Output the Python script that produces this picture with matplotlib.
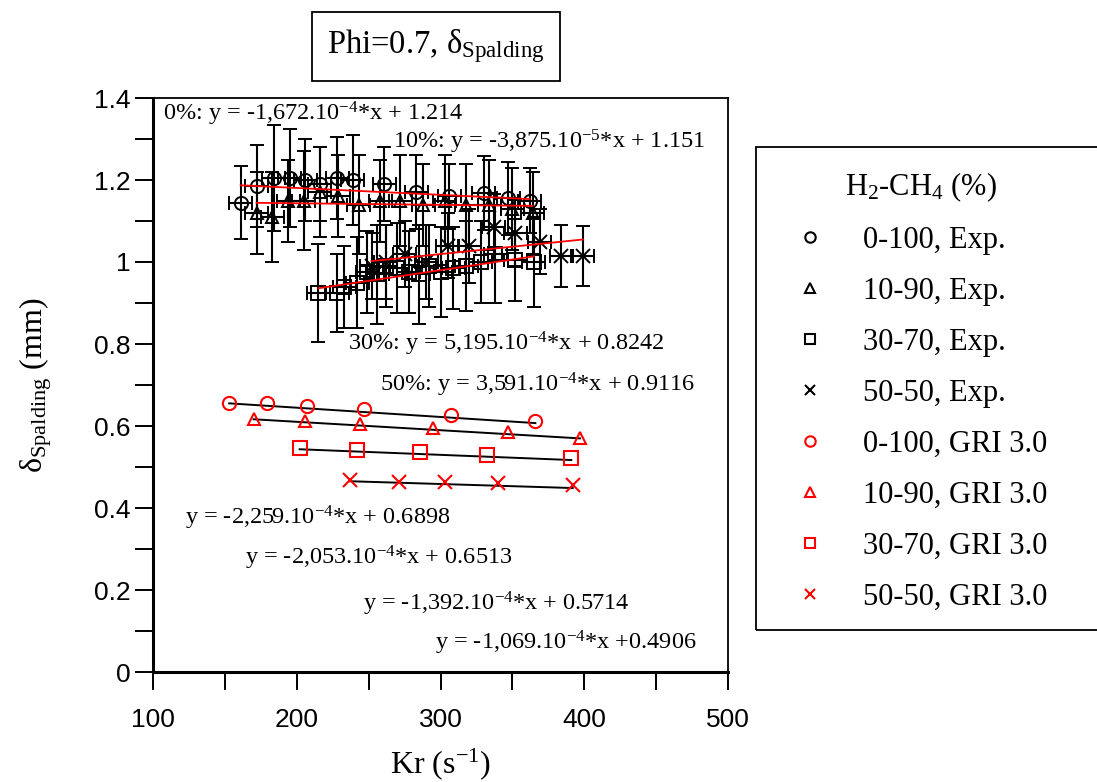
import numpy as np
import matplotlib
matplotlib.use('Agg')
import matplotlib.pyplot as plt
from matplotlib.lines import Line2D
from matplotlib.patches import Rectangle
from matplotlib.ticker import MultipleLocator, FormatStrFormatter

plt.rcParams['mathtext.fontset'] = 'custom'
plt.rcParams['mathtext.rm'] = 'Liberation Serif'
plt.rcParams['mathtext.it'] = 'Liberation Serif:italic'
plt.rcParams['mathtext.default'] = 'rm'

SERIF = 'Liberation Serif'
SANS = 'Liberation Sans'

# experimental data (black, with error bars)
exp_c_x = [161, 172, 184, 195, 206, 216, 228, 239, 261, 283, 306, 330, 347, 362]
exp_c_y = [1.145, 1.185, 1.205, 1.205, 1.200, 1.190, 1.205, 1.200, 1.190, 1.170, 1.160, 1.168, 1.155, 1.150]
exp_c_ye = [0.09, 0.10, 0.13, 0.12, 0.10, 0.09, 0.10, 0.11, 0.09, 0.09, 0.08, 0.09, 0.09, 0.08]

exp_t_x = [172, 183, 194, 205, 216, 229, 243, 258, 272, 288, 303, 318, 334, 350, 364]
exp_t_y = [1.12, 1.11, 1.15, 1.15, 1.17, 1.16, 1.14, 1.15, 1.15, 1.14, 1.15, 1.14, 1.14, 1.13, 1.12]
exp_t_ye = [0.10, 0.11, 0.10, 0.12, 0.11, 0.10, 0.12, 0.10, 0.11, 0.10, 0.11, 0.10, 0.11, 0.10, 0.10]

exp_s_x = [215, 228, 233, 242, 249, 256, 262, 270, 278, 285, 292, 300, 309, 318, 328, 338, 352, 365]
exp_s_y = [0.925, 0.925, 0.940, 0.950, 0.975, 0.970, 0.990, 0.985, 0.975, 0.970, 0.990, 0.975,
           0.985, 0.990, 1.000, 1.020, 1.005, 1.000]
exp_s_ye = [0.12, 0.095, 0.10, 0.11, 0.10, 0.12, 0.10, 0.11, 0.10, 0.12, 0.10, 0.11,
            0.10, 0.11, 0.10, 0.12, 0.10, 0.11]

exp_x_x = [252, 262, 275, 290, 305, 320, 337, 352, 369, 384, 399]
exp_x_y = [0.99, 1.00, 1.02, 1.00, 1.04, 1.04, 1.085, 1.07, 1.05, 1.015, 1.015]
exp_x_ye = [0.08, 0.09, 0.08, 0.09, 0.08, 0.09, 0.08, 0.08, 0.08, 0.075, 0.073]

exp_xerr = 8

# GRI 3.0 simulations (red)
gri_c_x = [153, 179, 207, 247, 307, 366]
gri_c_y = [0.657, 0.655, 0.649, 0.641, 0.627, 0.613]
gri_t_x = [170, 206, 244, 295, 347, 397]
gri_t_y = [0.617, 0.612, 0.604, 0.596, 0.585, 0.570]
gri_s_x = [202, 242, 286, 332, 391]
gri_s_y = [0.547, 0.541, 0.537, 0.529, 0.523]
gri_x_x = [237, 271, 303, 340, 392]
gri_x_y = [0.468, 0.464, 0.464, 0.462, 0.456]

# linear fits (slope, intercept) as printed on the chart
exp_fits = [(-1.672e-4, 1.214), (-3.875e-5, 1.151), (5.195e-4, 0.8242), (3.591e-4, 0.9116)]
gri_fits = [(-2.259e-4, 0.6898), (-2.053e-4, 0.6513), (-1.392e-4, 0.5714), (-1.069e-4, 0.4906)]

exp_labels = ['0%: y = -1,672.10$^{-4}$*x + 1.214', '10%: y = -3,875.10$^{-5}$*x + 1.151',
              '30%: y = 5,195.10$^{-4}$*x + 0.8242', '50%: y = 3,591.10$^{-4}$*x + 0.9116']
gri_labels = ['y = -2,259.10$^{-4}$*x + 0.6898', 'y = -2,053.10$^{-4}$*x + 0.6513',
              'y = -1,392.10$^{-4}$*x + 0.5714', 'y = -1,069.10$^{-4}$*x +0.4906']
exp_label_pos = [(107, 1.360), (267, 1.294), (236, 0.800), (258, 0.700)]
gri_label_pos = [(122, 0.376), (164, 0.278), (246, 0.166), (296, 0.071)]

legend_labels = ['0-100, Exp.', '10-90, Exp.', '30-70, Exp.', '50-50, Exp.',
                 '0-100, GRI 3.0', '10-90, GRI 3.0', '30-70, GRI 3.0', '50-50, GRI 3.0']

markers = ['o', '^', 's', 'x']
msizes = [9.5, 8.5, 9.5, 10]

fig = plt.figure(figsize=(10.97, 7.82), dpi=100)
ax = fig.add_axes([153 / 1097, 1 - 672 / 782, 575 / 1097, 574 / 782])

exp_sets = [(exp_c_x, exp_c_y, exp_c_ye), (exp_t_x, exp_t_y, exp_t_ye),
            (exp_s_x, exp_s_y, exp_s_ye), (exp_x_x, exp_x_y, exp_x_ye)]
gri_sets = [(gri_c_x, gri_c_y), (gri_t_x, gri_t_y), (gri_s_x, gri_s_y), (gri_x_x, gri_x_y)]

for (x, y, ye), m, ms, (a, b) in zip(exp_sets, markers, msizes, exp_fits):
    ax.errorbar(x, y, yerr=ye, xerr=exp_xerr, fmt=m, ms=ms, mfc='none', mec='black',
                mew=1.4, ecolor='black', elinewidth=1.5, capsize=5, capthick=1.5, zorder=2)
    xx = np.array([min(x), max(x)])
    ax.plot(xx, a * xx + b, color='red', lw=1.3, zorder=3)

for (x, y), m, ms, (a, b) in zip(gri_sets, markers, msizes, gri_fits):
    xx = np.array([min(x), max(x)])
    ax.plot(xx, a * xx + b, color='black', lw=1.4, zorder=2)
    ax.plot(x, y, m, ms=ms, mfc='none', mec='red', mew=1.5, zorder=3)

for (tx, ty), s in zip(exp_label_pos + gri_label_pos, exp_labels + gri_labels):
    ax.text(tx, ty, s, fontsize=17.5, family=SERIF, ha='left', va='center')

ax.set_xlim(100, 500)
ax.set_ylim(0, 1.4)
ax.xaxis.set_major_locator(MultipleLocator(100))
ax.xaxis.set_minor_locator(MultipleLocator(50))
ax.yaxis.set_major_locator(MultipleLocator(0.2))
ax.yaxis.set_minor_locator(MultipleLocator(0.1))
ax.yaxis.set_major_formatter(FormatStrFormatter('%g'))
ax.tick_params(which='both', direction='out', length=13, width=1.4, color='black')
ax.tick_params(axis='x', which='major', labelsize=19, pad=13)
ax.tick_params(axis='y', which='major', labelsize=19, pad=3)
for lab in ax.get_xticklabels() + ax.get_yticklabels():
    lab.set_family(SANS)
for side in ['left', 'bottom']:
    ax.spines[side].set_linewidth(2.2)
for side in ['top', 'right']:
    ax.spines[side].set_linewidth(1.3)

ax.set_xlabel('Kr (s$^{-1}$)', fontsize=23, family=SERIF, labelpad=10)
ax.set_ylabel(r'$\mathregular{\delta}_{\mathrm{Spalding}}$ (mm)', fontsize=23, family=SERIF, labelpad=29)

# title box
fig.patches.append(Rectangle((312 / 1097, 1 - 81 / 782), 248 / 1097, 69 / 782,
                             transform=fig.transFigure, fill=False, ec='black', lw=1.3))
fig.text(436 / 1097, 1 - 46 / 782, r'Phi=0.7, $\mathregular{\delta}_{\mathrm{Spalding}}$',
         fontsize=23.5, family=SERIF, ha='center', va='center')

# legend
handles = []
for i, lab in enumerate(legend_labels):
    col = 'black' if i < 4 else 'red'
    handles.append(Line2D([], [], ls='none', marker=markers[i % 4], ms=7.5, mfc='none',
                          mec=col, mew=1.5, label=lab))
fig.patches.append(Rectangle((756 / 1097, 1 - 630 / 782), 345 / 1097, 483 / 782,
                             transform=fig.transFigure, fill=False, ec='black', lw=1.3))
leg = fig.legend(handles=handles, loc='upper left', bbox_to_anchor=(779 / 1097, 1 - 155 / 782),
                 frameon=False, prop={'family': SERIF, 'size': 22}, handlelength=1.0,
                 handletextpad=1.25, labelspacing=0.72, title=r'H$_2$-CH$_4$ (%)',
                 title_fontproperties={'family': SERIF, 'size': 22}, borderpad=0)

fig.savefig('out.png', dpi=100)
